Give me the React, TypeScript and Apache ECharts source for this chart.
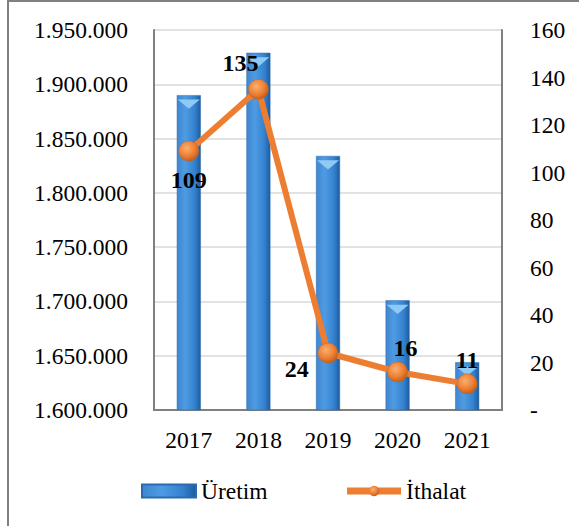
import React, { useEffect, useRef } from "react";
import * as echarts from "echarts";

const years = ["2017", "2018", "2019", "2020", "2021"];
const uretim = [1890000, 1929000, 1834000, 1701000, 1644000];
const ithalat = [109, 135, 24, 16, 11];

const FONT = "Times New Roman, Liberation Serif, DejaVu Serif, serif";
const FS = 23.5;

function fmtThousands(v: number): string {
  return String(Math.round(v)).replace(/\B(?=(\d{3})+(?!\d))/g, ".");
}

export default function App() {
  const ref = useRef<HTMLDivElement>(null);
  useEffect(() => {
    if (!ref.current) return;
    const chart = echarts.init(ref.current, undefined, { renderer: "svg" });
    const barGrad = new echarts.graphic.LinearGradient(0, 0, 1, 0, [
      { offset: 0, color: "#3f86cf" },
      { offset: 0.35, color: "#4f9be3" },
      { offset: 0.75, color: "#3482d0" },
      { offset: 1, color: "#1d5c9e" },
    ]);
    const dotGrad = new echarts.graphic.RadialGradient(0.4, 0.35, 0.7, [
      { offset: 0, color: "#f9b070" },
      { offset: 0.6, color: "#ed7d31" },
      { offset: 1, color: "#b85a1a" },
    ]);
    const labelPos: any[] = [
      { position: "bottom", offset: [0, 2] },
      { position: "top", offset: [-18, 1] },
      { position: "left", offset: [-4, 16] },
      { position: "top", offset: [8, 3] },
      { position: "top", offset: [0, 3] },
    ];
    chart.setOption({
      animation: false,
      textStyle: { fontFamily: FONT },
      graphic: [
        {
          type: "rect",
          shape: { x: 8, y: 1, width: 700, height: 700 },
          style: { fill: "none", stroke: "#808080", lineWidth: 2 },
          silent: true,
        },
      ],
      grid: { left: 154, top: 30, right: 77, bottom: 116 },
      legend: {
        left: 141,
        top: 479,
        padding: 0,
        itemWidth: 54,
        itemHeight: 13,
        itemGap: 76,
        textStyle: { fontFamily: FONT, fontSize: FS, color: "#000" },
        data: [
          { name: "Üretim", icon: "rect" },
          { name: "İthalat", lineStyle: { width: 7 }, itemStyle: { borderWidth: 0 } },
        ],
      },
      xAxis: {
        type: "category",
        data: years,
        axisTick: { show: false },
        axisLine: { lineStyle: { color: "#808080", width: 2 } },
        axisLabel: { fontFamily: FONT, fontSize: FS, color: "#000", margin: 18 },
      },
      yAxis: [
        {
          type: "value",
          min: 1600000,
          max: 1950000,
          interval: 50000,
          axisLine: { show: true, lineStyle: { color: "#808080", width: 2 } },
          axisTick: { show: false },
          splitLine: { lineStyle: { color: "#d9d9d9", width: 1.5 } },
          axisLabel: {
            fontFamily: FONT,
            fontSize: FS,
            color: "#000",
            margin: 26,
            formatter: (v: number) => fmtThousands(v),
          },
        },
        {
          type: "value",
          min: 0,
          max: 160,
          interval: 20,
          position: "right",
          axisLine: { show: true, lineStyle: { color: "#808080", width: 2 } },
          axisTick: { show: false },
          splitLine: { show: false },
          axisLabel: {
            fontFamily: FONT,
            fontSize: FS,
            color: "#000",
            margin: 28,
            formatter: (v: number) => (v === 0 ? "-" : String(v)),
          },
        },
      ],
      series: [
        {
          name: "Üretim",
          type: "bar",
          data: uretim,
          barWidth: 24,
          itemStyle: { color: barGrad, borderColor: "#2a6aad", borderWidth: 0.5 },
        },
        {
          name: "Üretim-cap",
          type: "pictorialBar",
          data: uretim,
          symbol: "path://M0,0 L10,0 L5,4 Z",
          symbolSize: [22, 9],
          symbolPosition: "end",
          symbolOffset: [0, "50%"],
          itemStyle: { color: "#8fcaf5" },
          silent: true,
          z: 3,
        },
        {
          name: "İthalat",
          type: "line",
          yAxisIndex: 1,
          data: ithalat.map((v, i) => ({
            value: v,
            label: {
              show: true,
              ...labelPos[i],
            },
          })),
          symbol: "circle",
          symbolSize: 20,
          lineStyle: { color: "#ed7d31", width: 6 },
          itemStyle: { color: dotGrad, borderColor: "#c4621f", borderWidth: 0.5 },
          label: {
            fontFamily: FONT,
            fontSize: 24,
            fontWeight: "bold",
            color: "#000",
          },
          z: 5,
        },
      ],
    });
    return () => chart.dispose();
  }, []);
  return (
    <div
      ref={ref}
      style={{ position: "fixed", left: 0, top: 0, width: 579, height: 526, background: "#fff" }}
    />
  );
}
